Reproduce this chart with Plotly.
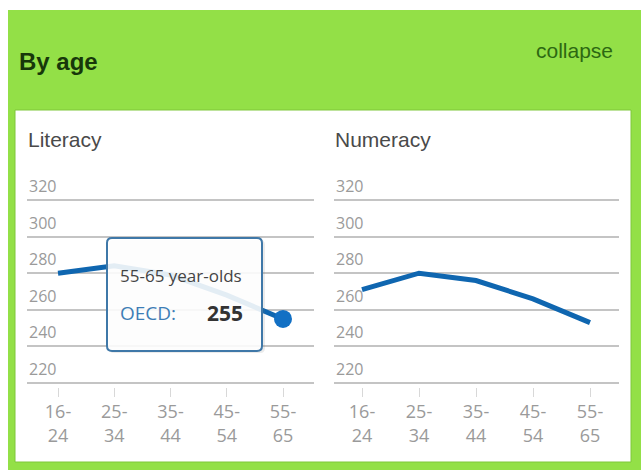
import plotly.graph_objects as go

# ---- data ----
age_groups = ["16-24", "25-34", "35-44", "45-54", "55-65"]
age_tick_labels = ["16-<br>24", "25-<br>34", "35-<br>44", "45-<br>54", "55-<br>65"]
literacy = [280, 284, 279, 268, 255]
numeracy = [271, 280, 276, 266, 253]
y_ticks = [220, 240, 260, 280, 300, 320]

W, H = 642, 471


def px(x):
    return x / W


def py(y):
    return 1 - y / H


LINE_BLUE = "#0f66b0"
GRID = "#c4c4c4"
TICK_GRAY = "#9a9a9a"

fig = go.Figure()

fig.add_trace(go.Scatter(
    x=age_groups, y=literacy, mode="lines", xaxis="x", yaxis="y",
    line=dict(color=LINE_BLUE, width=5), hoverinfo="skip", showlegend=False))
fig.add_trace(go.Scatter(
    x=[age_groups[-1]], y=[literacy[-1]], mode="markers", xaxis="x", yaxis="y",
    marker=dict(color="#1270c4", size=18), hoverinfo="skip", showlegend=False))
fig.add_trace(go.Scatter(
    x=age_groups, y=numeracy, mode="lines", xaxis="x2", yaxis="y2",
    line=dict(color=LINE_BLUE, width=5), hoverinfo="skip", showlegend=False))

# y domain: 220 at y=383px, 320 at y=200px, extended slightly
ppu = (383 - 200) / 100.0
y_lo, y_hi = 218, 322
y_dom = [py(383 + (220 - y_lo) * ppu), py(200 - (y_hi - 320) * ppu)]

xaxis_common = dict(
    type="category", categoryorder="array", categoryarray=age_groups,
    tickvals=age_groups, ticktext=age_tick_labels,
    showgrid=False, zeroline=False, showline=False,
    ticks="outside", ticklen=9, tickwidth=1, tickcolor="#d8d8d8",
    tickfont=dict(family="Open Sans", size=18, color=TICK_GRAY),
    fixedrange=True,
)
yaxis_common = dict(
    range=[y_lo, y_hi], tickvals=y_ticks,
    showgrid=True, gridcolor=GRID, gridwidth=1.5,
    zeroline=False, showline=False, ticks="",
    showticklabels=False,
    domain=y_dom, fixedrange=True,
)

# left chart: categories at 58..283 px (spacing 56.25)
lx_lo, lx_hi = -0.55, 4.55
l_sp = (283 - 58) / 4.0
l_dom = [px(58 + lx_lo * l_sp), px(58 + lx_hi * l_sp)]
# right chart: categories at 362..590 px (spacing 57)
rx_lo, rx_hi = -0.5, 4.5
r_sp = (590 - 362) / 4.0
r_dom = [px(362 + rx_lo * r_sp), px(362 + rx_hi * r_sp)]

fig.update_layout(
    width=W, height=H,
    margin=dict(l=0, r=0, t=0, b=0),
    paper_bgcolor="white", plot_bgcolor="rgba(0,0,0,0)",
    xaxis=dict(xaxis_common, domain=l_dom, range=[lx_lo, lx_hi], anchor="y"),
    yaxis=dict(yaxis_common, anchor="x"),
    xaxis2=dict(xaxis_common, domain=r_dom, range=[rx_lo, rx_hi], anchor="y2"),
    yaxis2=dict(yaxis_common, anchor="x2"),
    showlegend=False,
)

shapes = []
# green frame
shapes.append(dict(type="rect", xref="paper", yref="paper", layer="below",
                   x0=px(8), x1=px(641), y0=py(470), y1=py(10),
                   fillcolor="#93e047", line=dict(width=0)))
# white panel
shapes.append(dict(type="rect", xref="paper", yref="paper", layer="below",
                   x0=px(15), x1=px(631), y0=py(462), y1=py(110),
                   fillcolor="white", line=dict(color="#7fc73a", width=1)))


# tooltip (rounded box)
def rounded_path(x0, y0, x1, y1, r):
    pts = [
        ("M", [(x0 + r, y0)]),
        ("L", [(x1 - r, y0)]),
        ("Q", [(x1, y0), (x1, y0 + r)]),
        ("L", [(x1, y1 - r)]),
        ("Q", [(x1, y1), (x1 - r, y1)]),
        ("L", [(x0 + r, y1)]),
        ("Q", [(x0, y1), (x0, y1 - r)]),
        ("L", [(x0, y0 + r)]),
        ("Q", [(x0, y0), (x0 + r, y0)]),
    ]
    s = ""
    for cmd, ps in pts:
        s += cmd + " " + " ".join(f"{px(a):.5f},{py(b):.5f}" for a, b in ps) + " "
    return s + "Z"


shapes.append(dict(type="path", xref="paper", yref="paper", layer="above",
                   path=rounded_path(109, 240, 265, 353, 5),
                   fillcolor="rgba(120,120,120,0.15)", line=dict(width=0)))
shapes.append(dict(type="path", xref="paper", yref="paper", layer="above",
                   path=rounded_path(107, 238, 262, 351, 5),
                   fillcolor="rgba(255,255,255,0.88)",
                   line=dict(color="#3f78a8", width=2)))

fig.update_layout(shapes=shapes)

annotations = [
    dict(text="<b>By age</b>", x=px(17), y=py(62), xanchor="left", yanchor="middle",
         font=dict(family="Liberation Sans", size=24, color="#17370a")),
    dict(text="collapse", x=px(615), y=py(51), xanchor="right", yanchor="middle",
         font=dict(family="Liberation Sans", size=21, color="#2d6812")),
    dict(text="Literacy", x=px(26), y=py(140), xanchor="left", yanchor="middle",
         font=dict(family="Liberation Sans", size=21, color="#4a4a4a")),
    dict(text="Numeracy", x=px(333), y=py(140), xanchor="left", yanchor="middle",
         font=dict(family="Liberation Sans", size=21, color="#4a4a4a")),
    dict(text=f"{age_groups[-1]} year-olds", x=px(118), y=py(275),
         xanchor="left", yanchor="middle",
         font=dict(family="Open Sans", size=17, color="#444444")),
    dict(text="OECD:", x=px(118), y=py(313), xanchor="left", yanchor="middle",
         font=dict(family="Open Sans", size=19, color="#3d7db6")),
    dict(text=f"<b>{literacy[-1]}</b>", x=px(245), y=py(313), xanchor="right", yanchor="middle",
         font=dict(family="Open Sans", size=21, color="#333333")),
]
for a in annotations:
    a.update(xref="paper", yref="paper", showarrow=False)

# y tick labels drawn above each gridline, through each axis' own scale
for xr, yr in (("x domain", "y"), ("x2 domain", "y2")):
    for t in y_ticks:
        annotations.append(dict(
            text=str(t), xref=xr, yref=yr, x=0, y=t,
            xanchor="left", yanchor="bottom", showarrow=False, yshift=1,
            font=dict(family="Open Sans", size=16, color=TICK_GRAY)))

fig.update_layout(annotations=annotations)

fig.write_html("out.html", config={"displayModeBar": False},
               post_script="document.body.style.margin='0px';")
